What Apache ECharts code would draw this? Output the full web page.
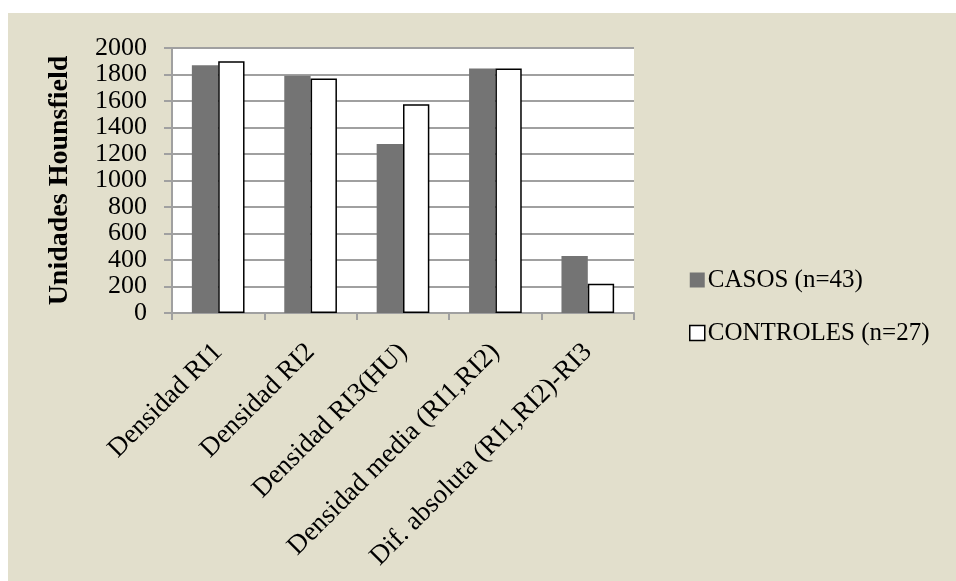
<!DOCTYPE html>
<html>
<head>
<meta charset="utf-8">
<script src="https://cdn.jsdelivr.net/npm/echarts@6/dist/echarts.min.js"></script>
<style>
  html, body { margin: 0; padding: 0; background: #ffffff; }
  #chart { width: 956px; height: 581px; }
</style>
</head>
<body>
<div id="chart"></div>
<script>
// Categories and mean densities (Hounsfield units) per group
const categories = [
  'Densidad RI1',
  'Densidad RI2',
  'Densidad RI3(HU)',
  'Densidad media (RI1,RI2)',
  'Dif. absoluta (RI1,RI2)-RI3'
];
const casos = [1870, 1790, 1275, 1845, 430];
const controles = [1900, 1770, 1575, 1845, 220];
const yTicks = { min: 0, max: 2000, step: 200 };
const seriesNames = ['CASOS (n=43)', 'CONTROLES (n=27)'];

const FONT = 'Liberation Serif';
const chart = echarts.init(document.getElementById('chart'), null, { renderer: 'canvas' });

chart.setOption({
  animation: false,
  backgroundColor: '#ffffff',
  graphic: [{
    type: 'rect',
    z: -10,
    shape: { x: 8, y: 13, width: 948, height: 568 },
    style: { fill: '#e2dfcc' },
    silent: true
  }],
  grid: {
    left: 172, top: 48, right: 322, bottom: 268,
    show: true, backgroundColor: '#ffffff', borderWidth: 0
  },
  legend: {
    orient: 'vertical',
    left: 684, top: 261,
    itemWidth: 15, itemHeight: 15, itemGap: 25,
    icon: 'rect',
    textStyle: { fontFamily: FONT, fontSize: 25, lineHeight: 28, color: '#000', padding: [0, 0, 0, -2] },
    data: [
      { name: seriesNames[0], itemStyle: { color: '#747474', borderWidth: 0 } },
      { name: seriesNames[1], itemStyle: { color: '#ffffff', borderColor: '#000', borderWidth: 1.5 } }
    ]
  },
  xAxis: {
    type: 'category',
    data: categories,
    axisLine: { lineStyle: { color: '#a0a0a0', width: 2 } },
    axisTick: { show: true, length: 7, lineStyle: { color: '#a0a0a0', width: 2 } },
    axisLabel: {
      rotate: 45, interval: 0, margin: 35,
      fontFamily: FONT, fontSize: 27, color: '#000'
    },
    splitLine: { show: false }
  },
  yAxis: {
    type: 'value',
    min: yTicks.min, max: yTicks.max, interval: yTicks.step,
    name: 'Unidades Hounsfield',
    nameLocation: 'middle',
    nameGap: 98,
    nameTextStyle: { fontFamily: FONT, fontSize: 28, fontWeight: 'bold', color: '#000' },
    axisLine: { show: true, lineStyle: { color: '#a0a0a0', width: 2 } },
    axisTick: { show: true, length: 8, lineStyle: { color: '#a0a0a0', width: 2 } },
    axisLabel: {
      fontFamily: FONT, fontSize: 26, lineHeight: 22, color: '#000', margin: 25,
      showMinLabel: true, showMaxLabel: true,
      formatter: v => String(v)
    },
    splitLine: { show: true, lineStyle: { color: '#a0a0a0', width: 2 } }
  },
  series: [
    {
      name: seriesNames[0],
      type: 'bar',
      data: casos,
      barGap: '0%',
      barCategoryGap: '43%',
      itemStyle: { color: '#747474' }
    },
    {
      name: seriesNames[1],
      type: 'bar',
      data: controles,
      barGap: '0%',
      barCategoryGap: '43%',
      itemStyle: { color: '#ffffff', borderColor: '#000000', borderWidth: 1.5 }
    }
  ]
});
</script>
</body>
</html>
